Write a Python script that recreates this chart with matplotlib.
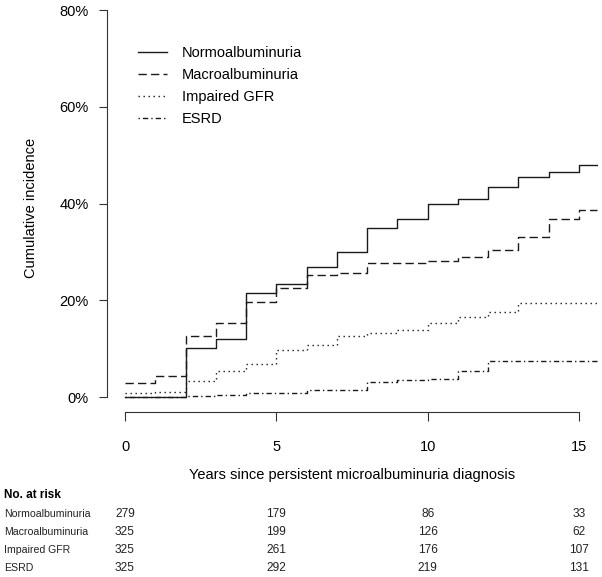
import matplotlib
matplotlib.use('Agg')
import matplotlib.pyplot as plt
import matplotlib.transforms as mtransforms
import numpy as np

plt.rcParams['font.family'] = ['Liberation Sans', 'DejaVu Sans']

# cumulative incidence (%) at the start of each year interval
years = list(range(16))
t_end = 15.6
normo = [0, 0, 10.2, 12.0, 21.4, 23.4, 26.8, 29.9, 34.9, 36.8, 40.0, 40.9, 43.5, 45.4, 46.5, 48.0]
macro = [2.8, 4.4, 12.7, 15.4, 19.6, 22.6, 25.2, 25.6, 27.7, 27.7, 28.2, 28.9, 30.3, 33.0, 36.8, 38.7]
gfr = [0.8, 1.1, 3.3, 5.3, 6.9, 9.7, 10.7, 12.7, 13.2, 13.9, 15.4, 16.5, 17.6, 19.5, 19.5, 19.5]
esrd = [0, 0, 0.2, 0.5, 0.8, 0.9, 1.5, 1.5, 3.0, 3.5, 3.8, 5.3, 7.4, 7.4, 7.4, 7.4]

labels = ['Normoalbuminuria', 'Macroalbuminuria', 'Impaired GFR', 'ESRD']
styles = ['-', (0, (6, 3)), (0, (1, 2.6)), (0, (1, 2.2, 3.8, 2.2))]

# numbers at risk
risk_years = [0, 5, 10, 15]
risk = [
    [279, 179, 86, 33],
    [325, 199, 126, 62],
    [325, 261, 176, 107],
    [325, 292, 219, 131],
]

W, H = 602, 577
fig = plt.figure(figsize=(W / 100, H / 100), dpi=100)
ax = fig.add_axes([107 / W, 1 - 412 / H, 491 / W, 402 / H])

for vals, ls, lab in zip([normo, macro, gfr, esrd], styles, labels):
    xs = years + [t_end]
    ys = vals + [vals[-1]]
    ax.step(xs, ys, where='post', color='#1a1a1a', lw=1.0, linestyle=ls, label=lab)

ax.set_xlim(-0.595, 15.63)
ax.set_ylim(-3.1, 80)

for s in ['top', 'right']:
    ax.spines[s].set_visible(False)
ax.spines['left'].set_bounds(0, 80)
ax.spines['bottom'].set_bounds(0, 15)
for s in ['left', 'bottom']:
    ax.spines[s].set_linewidth(0.8)
    ax.spines[s].set_color('#333333')

ax.set_yticks([0, 20, 40, 60, 80])
ax.set_yticklabels(['0%', '20%', '40%', '60%', '80%'])
ax.set_xticks([0, 5, 10, 15])
ax.tick_params(axis='y', length=5.8, width=0.8, color='#333333', pad=7.5, labelsize=10.5)
ax.tick_params(axis='x', length=6.5, width=0.8, color='#333333', pad=13.5, labelsize=10.5)

ax.legend(loc='upper left', bbox_to_anchor=(138 / W, 1 - 46 / H), bbox_transform=fig.transFigure,
          frameon=False, fontsize=10.5, handlelength=2.0, handletextpad=1.0,
          labelspacing=0.55, borderpad=0, borderaxespad=0)

fig.text(31 / W, 1 - 208 / H, 'Cumulative incidence', rotation=90, ha='center', va='center', fontsize=10.5)
fig.text(352 / W, 1 - 475 / H, 'Years since persistent microalbuminuria diagnosis',
         ha='center', va='center', fontsize=10.5)

# risk table
fig.text(4 / W, 1 - 495 / H, 'No. at risk', ha='left', va='center', fontsize=8.5, fontweight='bold')
tr = mtransforms.blended_transform_factory(ax.transData, fig.transFigure)
row_y = [514, 532, 550, 568]
for lab, row, yy in zip(labels, risk, row_y):
    fig.text(4 / W, 1 - yy / H, lab, ha='left', va='center', fontsize=7.6, color='#222222')
    for t, n in zip(risk_years, row):
        ax.text(t, 1 - yy / H, str(n), transform=tr, ha='center', va='center',
                fontsize=8.6, color='#222222', clip_on=False)

fig.savefig('out.png', dpi=100)
